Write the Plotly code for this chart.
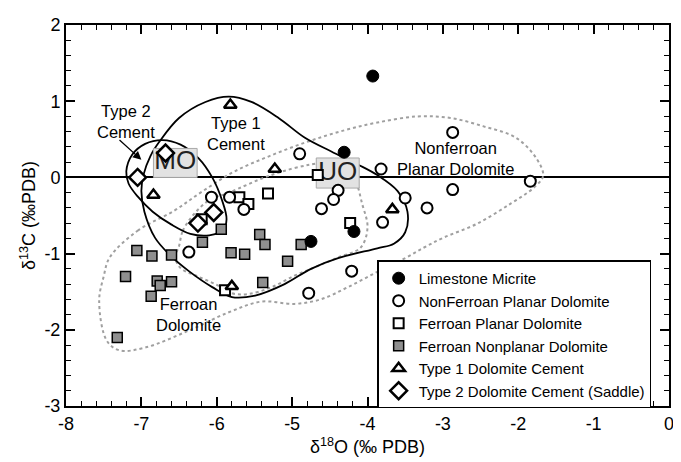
import plotly.graph_objects as go

# ---------------- data ----------------
lime_x = [-3.93, -4.31, -4.75, -4.18]
lime_y = [1.33, 0.33, -0.84, -0.71]

nonfer_x = [-4.90, -3.82, -2.87, -1.84, -2.87, -3.50, -3.21, -3.80, -4.39, -4.45,
            -4.61, -5.64, -5.83, -6.07, -6.37, -4.21, -4.78]
nonfer_y = [0.31, 0.11, 0.59, -0.05, -0.16, -0.27, -0.40, -0.59, -0.17, -0.29,
            -0.41, -0.42, -0.26, -0.26, -0.98, -1.23, -1.52]

ferpl_x = [-4.66, -5.32, -5.70, -5.58, -6.20, -4.23, -5.89]
ferpl_y = [0.03, -0.21, -0.26, -0.35, -0.55, -0.60, -1.48]

fnp_x = [-5.94, -6.19, -7.06, -6.86, -6.60, -5.81, -5.63, -5.43, -5.36, -5.06,
         -4.88, -5.39, -7.21, -6.79, -6.75, -6.60, -6.87, -7.32]
fnp_y = [-0.68, -0.85, -0.96, -1.03, -1.02, -0.99, -1.01, -0.75, -0.88, -1.10,
         -0.88, -1.38, -1.30, -1.36, -1.42, -1.37, -1.56, -2.10]

t1_x = [-5.82, -5.23, -6.84, -5.80, -3.67]
t1_y = [0.95, 0.11, -0.23, -1.43, -0.42]

t2_x = [-7.05, -6.68, -6.04, -6.25]
t2_y = [0.00, 0.32, -0.46, -0.60]

# field boundaries
type1_cx = [-6.76, -6.5, -6.15, -5.84, -5.54, -5.18, -4.83, -4.48, -4.13, -3.87, -3.6,
            -3.47, -3.5, -3.65, -3.87, -4.39, -4.75, -5.1, -5.49, -5.80, -6.06, -6.37,
            -6.63, -6.82, -6.96, -7.0, -6.97, -6.88, -6.76]
type1_cy = [0.47, 0.78, 0.99, 1.06, 0.99, 0.78, 0.52, 0.34, 0.17, 0.03, -0.18,
            -0.45, -0.72, -0.87, -0.93, -1.06, -1.2, -1.4, -1.55, -1.57, -1.44, -1.23,
            -1.01, -0.79, -0.45, -0.18, 0.04, 0.28, 0.47]

type2_cx = [-7.2, -7.12, -6.95, -6.72, -6.48, -6.24, -6.06, -5.93, -5.87, -5.92, -6.1,
            -6.35, -6.6, -6.85, -7.05, -7.17, -7.2]
type2_cy = [0.08, 0.3, 0.44, 0.49, 0.43, 0.25, 0.0, -0.3, -0.55, -0.7, -0.76,
            -0.74, -0.62, -0.45, -0.25, -0.08, 0.08]

outer_cx = [-7.42, -7.05, -6.57, -6.2, -5.78, -5.3, -4.79, -4.3, -3.87, -3.34, -2.9,
            -2.46, -2.03, -1.76, -1.67, -1.8, -2.11, -2.55, -2.99, -3.25, -3.52, -3.87,
            -4.26, -4.62, -4.97, -5.41, -5.84, -6.37, -6.94, -7.29, -7.46, -7.56, -7.5, -7.42]
outer_cy = [-1.05, -0.7, -0.44, -0.19, 0.07, 0.28, 0.47, 0.62, 0.72, 0.80, 0.78,
            0.67, 0.52, 0.25, 0.02, -0.14, -0.35, -0.61, -0.79, -0.92, -1.07, -1.24,
            -1.44, -1.60, -1.66, -1.63, -1.77, -2.01, -2.23, -2.27, -2.14, -1.62, -1.3, -1.05]

inner_cx = [-6.5, -6.45, -6.3, -6.1, -5.84, -5.28, -4.75, -4.4, -4.2, -4.07, -4.0,
            -4.09, -4.39, -4.70, -4.97, -5.27, -5.58, -5.8, -6.0, -6.25, -6.48, -6.55, -6.5]
inner_cy = [-0.9, -0.7, -0.48, -0.3, -0.2, 0.03, 0.17, 0.2, 0.05, -0.35, -0.66,
            -0.92, -1.05, -1.18, -1.29, -1.44, -1.53, -1.52, -1.41, -1.3, -1.19, -1.05, -0.9]

mo_box_x = [-6.84, -6.26]
mo_box_y = [0.0, 0.38]
uo_box_x = [-4.68, -4.11]
uo_box_y = [-0.14, 0.255]

x_ticks = [-8, -7, -6, -5, -4, -3, -2, -1, 0]
x_ticktext = ["-8", "-7", "-6", "-5", "-4", "-3", "-2", "-1", "0"]
y_ticks = [-3, -2, -1, 0, 1, 2]
y_ticktext = ["-3", "-2", "-1", "0", "1", "2"]

FONT = "Liberation Sans, Arial, Helvetica, sans-serif"

fig = go.Figure()

# dotted field outlines
for cx, cy in [(outer_cx, outer_cy), (inner_cx, inner_cy)]:
    fig.add_trace(go.Scatter(x=cx, y=cy, mode="lines", showlegend=False, hoverinfo="skip",
                             line=dict(color="#a0a0a0", width=2, dash="dot", shape="spline", smoothing=1.0)))
# solid cement outlines
for cx, cy in [(type1_cx, type1_cy), (type2_cx, type2_cy)]:
    fig.add_trace(go.Scatter(x=cx, y=cy, mode="lines", showlegend=False, hoverinfo="skip",
                             line=dict(color="black", width=1.8, shape="spline", smoothing=1.0)))

# MO / UO boxes
for bx, by, label in [(mo_box_x, mo_box_y, "MO"), (uo_box_x, uo_box_y, "UO")]:
    fig.add_trace(go.Scatter(x=[bx[0], bx[1], bx[1], bx[0], bx[0]],
                             y=[by[0], by[0], by[1], by[1], by[0]],
                             mode="lines", fill="toself", fillcolor="#e2e2e2",
                             line=dict(color="#a8a8a8", width=1), showlegend=False, hoverinfo="skip"))
    fig.add_trace(go.Scatter(x=[(bx[0] + bx[1]) / 2], y=[(by[0] + by[1]) / 2], mode="text",
                             text=[label], textfont=dict(family=FONT, size=26, color="#222"),
                             showlegend=False, hoverinfo="skip"))

LW = 2
fig.add_trace(go.Scatter(x=fnp_x, y=fnp_y, mode="markers", name="Ferroan Nonplanar Dolomite", legendrank=4,
                         marker=dict(symbol="square", size=10, color="#8f8f8f", line=dict(color="black", width=1.5))))
fig.add_trace(go.Scatter(x=ferpl_x, y=ferpl_y, mode="markers", name="Ferroan Planar Dolomite", legendrank=3,
                         marker=dict(symbol="square", size=10, color="white", line=dict(color="black", width=LW))))
fig.add_trace(go.Scatter(x=nonfer_x, y=nonfer_y, mode="markers", name="NonFerroan Planar Dolomite", legendrank=2,
                         marker=dict(symbol="circle", size=11, color="white", line=dict(color="black", width=LW))))
fig.add_trace(go.Scatter(x=t1_x, y=t1_y, mode="markers", name="Type 1 Dolomite Cement", legendrank=5,
                         marker=dict(symbol="triangle-up", size=11, color="white", line=dict(color="black", width=LW + 0.5))))
fig.add_trace(go.Scatter(x=t2_x, y=t2_y, mode="markers", name="Type 2 Dolomite Cement (Saddle)", legendrank=6,
                         marker=dict(symbol="diamond", size=13, color="white", line=dict(color="black", width=LW + 0.5))))
fig.add_trace(go.Scatter(x=lime_x, y=lime_y, mode="markers", name="Limestone Micrite", legendrank=1,
                         marker=dict(symbol="circle", size=12, color="black", line=dict(color="black", width=1))))

ann_font = dict(family=FONT, size=16.5, color="black")
annotations = [
    dict(x=-7.2, y=0.74, text="Type 2<br>Cement", showarrow=False, font=ann_font),
    dict(x=-5.75, y=0.58, text="Type 1<br>Cement", showarrow=False, font=ann_font),
    dict(x=-2.83, y=0.25, text="Nonferroan<br>Planar Dolomite", showarrow=False, font=ann_font),
    dict(x=-6.37, y=-1.80, text="Ferroan<br>Dolomite", showarrow=False, font=ann_font),
    dict(x=-7.0, y=0.23, ax=-7.31, ay=0.51, xref="x", yref="y", axref="x", ayref="y",
         text="", showarrow=True, arrowhead=2, arrowsize=1.3, arrowwidth=1.3, arrowcolor="black"),
]

axis_common = dict(showline=True, linewidth=2, linecolor="black", mirror="allticks",
                   ticks="inside", ticklen=9, tickwidth=1.5, tickcolor="black",
                   showgrid=False, tickfont=dict(family=FONT, size=18, color="black"))

# page body has an 8px margin: figure is sized/offset so the plot area lands where the reference has it
fig.update_layout(
    width=673, height=454,
    margin=dict(l=58, r=7, t=15, b=56),
    plot_bgcolor="white", paper_bgcolor="white",
    font=dict(family=FONT, color="black"),
    annotations=annotations,
    xaxis=dict(range=[-8, 0], tickvals=x_ticks, ticktext=x_ticktext, zeroline=False,
               minor=dict(ticks="inside", ticklen=5, tickwidth=1.2, tickcolor="black", dtick=0.2, showgrid=False),
               title=dict(text="δ<sup>18</sup>O (‰ PDB)", font=dict(family=FONT, size=18), standoff=8),
               **axis_common),
    yaxis=dict(range=[-3, 2], tickvals=y_ticks, ticktext=y_ticktext, zeroline=True,
               zerolinecolor="black", zerolinewidth=2,
               minor=dict(ticks="inside", ticklen=5, tickwidth=1.2, tickcolor="black", dtick=0.2, showgrid=False),
               title=dict(text="δ<sup>13</sup>C (‰PDB)", font=dict(family=FONT, size=18), standoff=4),
               **axis_common),
    legend=dict(x=0.516, y=0.382, xanchor="left", yanchor="top", bgcolor="white",
                bordercolor="black", borderwidth=1.5, font=dict(family=FONT, size=15, color="black"),
                tracegroupgap=0),
)

fig.write_html("out.html")
